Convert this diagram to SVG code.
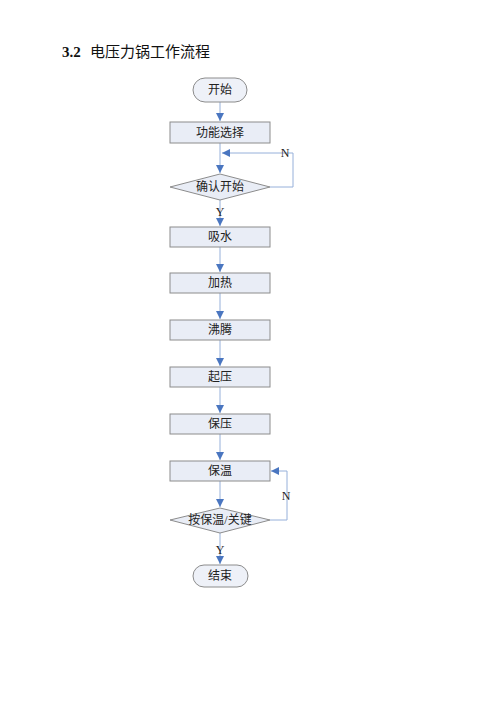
<svg xmlns="http://www.w3.org/2000/svg" width="500" height="707" viewBox="0 0 500 707">
<defs>
<marker id="ah" viewBox="0 0 10 10" refX="10" refY="5" markerWidth="8" markerHeight="8" markerUnits="userSpaceOnUse" orient="auto">
<path d="M0,0 L10,5 L0,10 z" fill="#4a76c0"/>
</marker>
<style>
.box{fill:#e9edf6;stroke:#8c8c8c;stroke-width:1}
.term{fill:#eef1f8;stroke:#8c8c8c;stroke-width:1}
.lbl{font-family:"Liberation Serif","Noto Sans CJK SC",serif;font-size:12px;fill:#222;text-anchor:middle}
.yn{font-family:"Liberation Serif",serif;font-size:12px;fill:#222;text-anchor:middle}
.con{fill:none;stroke:#96b0da;stroke-width:1;marker-end:url(#ah)}
.title{font-family:"Liberation Serif","Noto Sans CJK SC",serif;font-size:15px;fill:#111}
</style>
</defs>
<rect width="500" height="707" fill="#fff"/>
<text class="title" x="62" y="57"><tspan font-weight="bold">3.2</tspan><tspan x="90">电压力锅工作流程</tspan></text>
<g id="connectors">
<path class="con" d="M220,102 V121"/>
<path class="con" d="M220,143 V173"/>
<path class="con" d="M270,187 H293 V153 H222"/>
<path class="con" d="M220,200 V226"/>
<path class="con" d="M220,247 V272"/>
<path class="con" d="M220,293 V319"/>
<path class="con" d="M220,340 V366"/>
<path class="con" d="M220,387 V413"/>
<path class="con" d="M220,434 V460"/>
<path class="con" d="M220,481 V507"/>
<path class="con" d="M270,520 H287 V471 H271"/>
<path class="con" d="M220,533 V564"/>
<text class="yn" x="285" y="157">N</text>
<text class="yn" x="220" y="216">Y</text>
<text class="yn" x="286" y="500">N</text>
<text class="yn" x="220" y="554">Y</text>
</g>
<g id="start"><rect class="term" x="193" y="78" width="54" height="24" rx="12"/><text class="lbl" x="220" y="94">开始</text></g>
<g id="select"><rect class="box" x="170" y="122" width="100" height="21"/><text class="lbl" x="220" y="137">功能选择</text></g>
<g id="confirm"><polygon class="box" points="220,174 270,187 220,200 170,187"/><text class="lbl" x="220" y="191">确认开始</text></g>
<g id="water"><rect class="box" x="170" y="227" width="100" height="20"/><text class="lbl" x="220" y="241">吸水</text></g>
<g id="heat"><rect class="box" x="170" y="273" width="100" height="20"/><text class="lbl" x="220" y="287">加热</text></g>
<g id="boil"><rect class="box" x="170" y="320" width="100" height="20"/><text class="lbl" x="220" y="334">沸腾</text></g>
<g id="press"><rect class="box" x="170" y="367" width="100" height="20"/><text class="lbl" x="220" y="381">起压</text></g>
<g id="hold"><rect class="box" x="170" y="414" width="100" height="20"/><text class="lbl" x="220" y="428">保压</text></g>
<g id="warm"><rect class="box" x="170" y="461" width="100" height="20"/><text class="lbl" x="220" y="475">保温</text></g>
<g id="key"><polygon class="box" points="220,508 270,520 220,533 170,520"/><text class="lbl" x="220" y="524">按保温/关键</text></g>
<g id="end"><rect class="term" x="193" y="565" width="55" height="22" rx="11"/><text class="lbl" x="220" y="580">结束</text></g>
</svg>
